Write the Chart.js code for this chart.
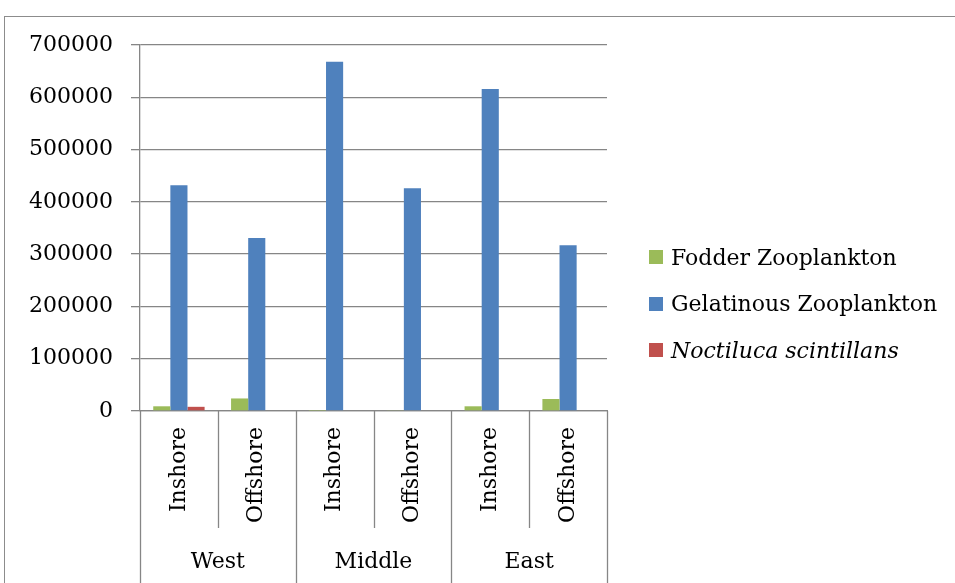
<!DOCTYPE html>
<html>
<head>
<meta charset="utf-8">
<script src="https://cdn.jsdelivr.net/npm/chart.js@4/dist/chart.umd.min.js"></script>
<style>
  html, body { margin: 0; padding: 0; background: #fff; }
  #wrap { position: relative; width: 955px; height: 583px; overflow: hidden; }
  #legend { position: absolute; left: 649px; top: 234px; font-family: "DejaVu Serif", serif; font-size: 22px; color: #000; }
  #legend .item { display: flex; align-items: center; height: 46.5px; white-space: nowrap; }
  #legend .box { width: 14px; height: 14px; margin-right: 8px; }
</style>
</head>
<body>
<div id="wrap">
  <canvas id="chart" width="955" height="583"></canvas>
  <div id="legend"></div>
</div>
<script>
'use strict';

var stations = ['Inshore', 'Offshore', 'Inshore', 'Offshore', 'Inshore', 'Offshore'];
var regions = ['West', 'Middle', 'East'];
var fodder = [9000, 24000, 500, 1500, 9000, 23000];
var gelatinous = [432000, 331000, 668000, 426000, 616000, 317000];
var noctiluca = [8000, 0, 0, 0, 0, 0];
var yTicks = [0, 100000, 200000, 300000, 400000, 500000, 600000, 700000];

var gridGray = '#868686';
var serif = 'DejaVu Serif';

// frame and the category separators below the axis
var framePlugin = {
    id: 'frame',
    beforeDraw: function (chart) {
        var ctx = chart.ctx;
        ctx.save();
        ctx.strokeStyle = '#8c8c8c';
        ctx.lineWidth = 1;
        ctx.strokeRect(4.5, 16.5, 1200, 1200);
        ctx.restore();
    },
    afterDraw: function (chart) {
        var ctx = chart.ctx;
        var x = chart.scales.x;
        var area = chart.chartArea;
        var step = (area.right - area.left) / stations.length;
        ctx.save();
        ctx.strokeStyle = gridGray;
        ctx.lineWidth = 1.3;
        for (var k = 0; k <= stations.length; k++) {
            var px = Math.round(area.left + k * step) + 0.5;
            var bottom = (k % 2 === 0) ? chart.height : x.bottom;
            ctx.beginPath();
            ctx.moveTo(px, area.bottom);
            ctx.lineTo(px, bottom);
            ctx.stroke();
        }
        ctx.restore();
    }
};

var chart = new Chart(document.getElementById('chart'), {
    type: 'bar',
    data: {
        labels: stations,
        datasets: [
            { label: 'Fodder Zooplankton', data: fodder, backgroundColor: '#9BBB59' },
            { label: 'Gelatinous Zooplankton', data: gelatinous, backgroundColor: '#4F81BD' },
            { label: 'Noctiluca scintillans', data: noctiluca, backgroundColor: '#C0504D', italic: true }
        ]
    },
    options: {
        responsive: false,
        animation: false,
        events: [],
        layout: { padding: { left: 0, right: 348, top: 45, bottom: 0 } },
        datasets: { bar: { categoryPercentage: 0.66, barPercentage: 1.0 } },
        plugins: { legend: { display: false }, tooltip: { enabled: false } },
        scales: {
            y: {
                min: 0,
                max: 700000,
                afterBuildTicks: function (scale) {
                    scale.ticks = yTicks.map(function (v) { return { value: v }; });
                },
                afterFit: function (scale) { scale.width = 140; },
                grid: { color: gridGray, lineWidth: 1.3, tickLength: 9 },
                border: { color: gridGray, width: 1.3 },
                ticks: {
                    padding: 18,
                    color: '#000',
                    font: { family: serif, size: 22 },
                    callback: function (v) { return String(v); }
                }
            },
            x: {
                afterFit: function (scale) { scale.height = 117; },
                grid: { display: false, drawTicks: false },
                border: { color: gridGray, width: 1.3 },
                ticks: {
                    minRotation: 90,
                    maxRotation: 90,
                    padding: 16,
                    color: '#000',
                    font: { family: serif, size: 22 }
                }
            },
            x2: {
                type: 'category',
                labels: regions,
                position: 'bottom',
                offset: true,
                afterFit: function (scale) { scale.height = 55; },
                grid: { display: false, drawTicks: false },
                border: { display: false },
                ticks: {
                    padding: 21,
                    color: '#000',
                    font: { family: serif, size: 22 }
                }
            }
        }
    },
    plugins: [framePlugin]
});

// html legend built from the datasets
var legend = document.getElementById('legend');
chart.data.datasets.forEach(function (ds) {
    var item = document.createElement('div');
    item.className = 'item';
    var box = document.createElement('span');
    box.className = 'box';
    box.style.background = ds.backgroundColor;
    var txt = document.createElement('span');
    txt.textContent = ds.label;
    if (ds.italic) txt.style.fontStyle = 'italic';
    item.appendChild(box);
    item.appendChild(txt);
    legend.appendChild(item);
});
</script>
</body>
</html>
